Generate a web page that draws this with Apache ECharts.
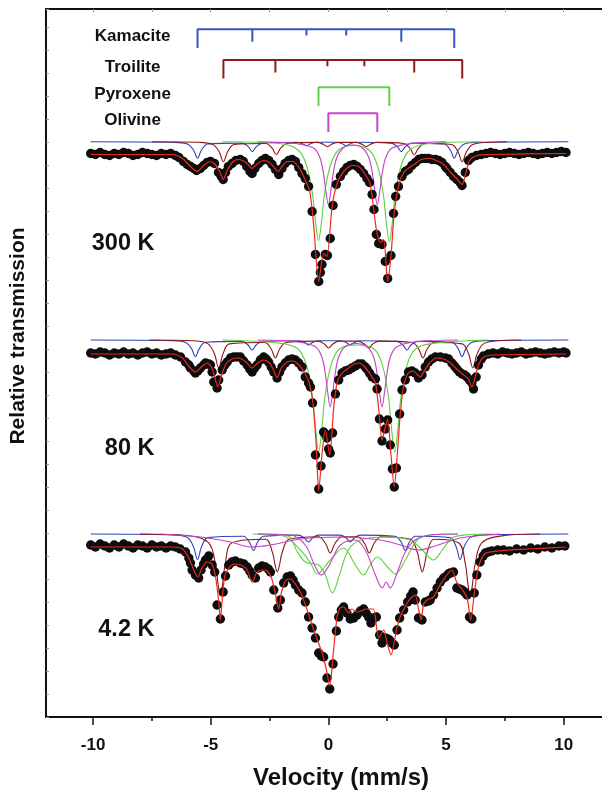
<!DOCTYPE html>
<html><head><meta charset="utf-8">
<script src="https://cdn.jsdelivr.net/npm/echarts@6/dist/echarts.min.js"></script>
<style>html,body{margin:0;padding:0;background:#fff}#c{width:602px;height:796px}</style>
</head><body><div id="c"></div>
<script>
// ---------- DATA ----------
const xTickLabels = [-10, -5, 0, 5, 10];
const xMinorTicks = [-7.5, -2.5, 2.5, 7.5];
const xTopTicks = [-10, -7.5, -5, -2.5, 0, 2.5, 5, 7.5, 10];
const temperatures = ['300 K', '80 K', '4.2 K'];
const phaseNames = ['Kamacite', 'Troilite', 'Pyroxene', 'Olivine'];

// stick diagrams (line positions, mm/s, and relative intensities)
const kamaciteSticks = [-5.56, -3.23, -0.93, 0.76, 3.10, 5.35];
const troiliteSticks = [-4.46, -2.25, -0.04, 1.53, 3.65, 5.69];
const pyroxeneSticks = [-0.42, 2.59];
const olivineSticks = [0.0, 2.08];
const sextetIntensity = [3, 2, 1, 1, 2, 3];
const doubletIntensity = [3, 3];

// vertical offsets of the stacked spectra (arbitrary transmission units)
const dataOffsets = [562.5, 363, 171];
const componentOffsets = [575.3, 377, 183];

// ---- 300 K ----
const dots300 = [[-10.1,1],[-9.9,0],[-9.7,2],[-9.5,0],[-9.3,-1],[-9.1,1],[-8.9,0],[-8.7,2],[-8.5,1],[-8.3,-1],[-8.1,0],[-7.9,2],[-7.7,1],[-7.5,0],[-7.3,-1],[-7.1,1],[-6.9,0],[-6.7,1],[-6.5,-1],[-6.35,-3],
[-6.16,-7],[-6.0,-10],[-5.86,-12],[-5.72,-14],[-5.6,-16],[-5.44,-14],[-5.3,-11],[-5.15,-8],[-5.01,-7],[-4.84,-9],[-4.67,-18],[-4.55,-22],[-4.47,-25],[-4.37,-18],[-4.25,-12],[-4.09,-9],[-3.93,-6],[-3.75,-5],[-3.61,-7],[-3.47,-12],[-3.33,-17],[-3.24,-19],[-3.12,-14],[-2.96,-9],[-2.82,-6],[-2.68,-4],[-2.53,-6],[-2.39,-10],[-2.25,-15],[-2.11,-20],[-1.97,-14],[-1.84,-9],[-1.68,-6],[-1.54,-5],[-1.4,-7],[-1.26,-13],[-1.12,-19],[-0.98,-24],[-0.84,-32],[-0.69,-57],[-0.55,-100],[-0.41,-127],[-0.34,-118],[-0.27,-110],[-0.13,-100],[-0.04,-101],[0.08,-84],[0.2,-51],[0.34,-30],[0.51,-22],[0.65,-17],[0.79,-13],[0.93,-11],[1.08,-10],[1.22,-12],[1.36,-15],[1.5,-19],[1.64,-24],[1.75,-28],[1.86,-40],[1.94,-55],[2.04,-80],[2.14,-89],[2.28,-90],[2.42,-107],[2.52,-124],[2.66,-101],[2.77,-59],[2.86,-42],[2.98,-32],[3.13,-22],[3.27,-17],[3.41,-15],[3.55,-11],[3.7,-8],[3.84,-5],[3.98,-4],[4.12,-4],[4.26,-4],[4.4,-5],[4.55,-5],[4.69,-6],[4.83,-8],[4.97,-12],[5.04,-14],[5.18,-18],[5.32,-22],[5.46,-25],[5.6,-28],[5.68,-31],[5.82,-18],[5.96,-6],[6.1,-3],
[6.3,-1],[6.5,0],[6.7,1],[6.9,2],[7.1,1],[7.3,0],[7.5,1],[7.7,2],[7.9,1],[8.1,0],[8.3,1],[8.5,2],[8.7,1],[8.9,0],[9.1,1],[9.3,2],[9.5,1],[9.7,2],[9.9,3],[10.1,2]];
const fit300 = [[-10.1,0],[-6.6,0],[-6.2,-4],[-5.9,-11],[-5.58,-17],[-5.3,-11],[-5.05,-7],[-4.8,-10],[-4.6,-18],[-4.47,-25],[-4.3,-16],[-4.05,-7],[-3.8,-5],[-3.5,-8],[-3.24,-14],[-3.0,-9],[-2.75,-6],[-2.5,-8],[-2.3,-13],[-2.13,-17],[-1.97,-12],[-1.75,-7],[-1.5,-7],[-1.25,-13],[-1.05,-22],[-0.79,-37],[-0.62,-72],[-0.41,-127],[-0.2,-99],[-0.06,-102],[0.16,-52],[0.37,-29],[0.65,-17],[1.0,-11],[1.29,-12],[1.57,-20],[1.78,-30],[2.04,-75],[2.21,-88],[2.35,-85],[2.52,-127],[2.66,-102],[2.8,-58],[3.0,-30],[3.2,-18],[3.45,-13],[3.7,-9],[3.95,-5],[4.3,-4],[4.6,-6],[4.9,-10],[5.2,-18],[5.45,-24],[5.68,-30],[5.85,-18],[6.0,-6],[6.3,-1],[7,0],[10.1,1]];
const kam300 = [[-10.1,0],[-6.6,-0.6],[-5.99,-2.3],[-5.73,-8.3],[-5.56,-16.5],[-5.39,-8.3],[-5.13,-2.3],[-3.66,-1.4],[-3.40,-5],[-3.23,-10],[-3.06,-5],[-2.80,-1.4],[-1.36,-0.6],[-1.10,-2],[-0.93,-4],[-0.76,-2],[-0.50,-0.6],[0.33,-0.6],[0.59,-2],[0.76,-4],[0.93,-2],[1.19,-0.6],[2.67,-1.4],[2.93,-5],[3.10,-10],[3.27,-5],[3.53,-1.4],[4.92,-2.3],[5.18,-8.3],[5.35,-16.5],[5.52,-8.3],[5.78,-2.3],[6.4,-0.6],[10.2,0]];
const tro300 = [[-7.5,0],[-5.5,-0.6],[-4.91,-2.8],[-4.64,-10],[-4.46,-20],[-4.28,-10],[-4.01,-2.8],[-2.66,-1.8],[-2.39,-6.5],[-2.21,-13],[-2.03,-6.5],[-1.76,-1.8],[-0.49,-0.7],[-0.22,-2.5],[-0.04,-5],[0.14,-2.5],[0.41,-0.7],[1.16,-0.7],[1.43,-2.5],[1.61,-5],[1.79,-2.5],[2.06,-0.7],[3.20,-1.8],[3.47,-6.5],[3.65,-13],[3.83,-6.5],[4.10,-1.8],[5.24,-2.8],[5.51,-10],[5.69,-20],[5.87,-10],[6.14,-2.8],[6.8,-0.6],[7.6,0]];
const pyr300 = [[-4.5,0],[-2.0,-2],[-1.3,-8],[-0.95,-22],[-0.69,-50],[-0.55,-80],[-0.42,-99],[-0.29,-80],[-0.15,-50],[0.11,-22],[0.45,-8],[1.08,-3.5],[1.71,-8],[2.06,-22],[2.32,-50],[2.46,-80],[2.59,-100],[2.72,-80],[2.86,-50],[3.12,-22],[3.47,-8],[4.2,-2],[6.5,0]];
const oli300 = [[-3,0],[-1.5,-1.5],[-0.63,-6.3],[-0.36,-15.8],[-0.21,-31.5],[-0.1,-50.4],[0,-63],[0.1,-50.4],[0.21,-31.5],[0.36,-15.8],[0.63,-6.3],[1.04,-3.3],[1.45,-6.3],[1.72,-15.8],[1.87,-31.5],[1.98,-50.4],[2.08,-63],[2.18,-50.4],[2.29,-31.5],[2.44,-15.8],[2.71,-6.3],[3.6,-1.5],[5,0]];

// ---- 80 K ----
const dots80 = [[-10.1,1],[-9.9,0],[-9.7,2],[-9.5,1],[-9.3,-1],[-9.1,1],[-8.9,0],[-8.7,2],[-8.5,0],[-8.3,1],[-8.1,-1],[-7.9,1],[-7.7,2],[-7.5,0],[-7.3,1],[-7.1,-1],[-6.9,0],[-6.7,1],[-6.5,-1],
[-6.28,-3],[-6.07,-8],[-5.93,-11],[-5.86,-14],[-5.72,-17],[-5.65,-19],[-5.55,-17],[-5.44,-14],[-5.3,-11],[-5.22,-9],[-5.08,-10],[-5.01,-11],[-4.94,-18],[-4.87,-28],[-4.73,-34],[-4.66,-26],[-4.51,-16],[-4.4,-11],[-4.3,-8],[-4.16,-4],[-4.02,-3],[-3.88,-3],[-3.74,-3],[-3.6,-7],[-3.45,-11],[-3.34,-15],[-3.24,-18],[-3.13,-14],[-3.03,-11],[-2.89,-6],[-2.75,-3],[-2.64,-5],[-2.54,-8],[-2.43,-13],[-2.32,-18],[-2.18,-24],[-2.07,-18],[-1.97,-13],[-1.83,-9],[-1.69,-6],[-1.54,-5],[-1.4,-6],[-1.26,-9],[-1.12,-13],[-0.98,-23],[-0.84,-29],[-0.76,-33],[-0.67,-49],[-0.55,-101],[-0.41,-135],[-0.31,-112],[-0.2,-78],[-0.13,-80],[-0.06,-84],[0.01,-95],[0.08,-99],[0.18,-79],[0.3,-40],[0.44,-26],[0.58,-19],[0.72,-17],[0.86,-16],[1.0,-14],[1.15,-12],[1.29,-10],[1.43,-10],[1.57,-13],[1.64,-15],[1.75,-19],[1.86,-23],[2.0,-25],[2.07,-35],[2.17,-65],[2.28,-87],[2.42,-75],[2.52,-66],[2.63,-91],[2.72,-115],[2.8,-133],[2.89,-114],[3.03,-60],[3.13,-36],[3.27,-26],[3.41,-18],[3.55,-17],[3.69,-19],[3.83,-24],[3.98,-21],[4.12,-13],[4.26,-8],[4.4,-5],[4.55,-3],[4.76,-3],[4.97,-4],[5.11,-5],[5.25,-9],[5.36,-12],[5.46,-15],[5.57,-18],[5.68,-20],[5.79,-21],[5.89,-23],[6.0,-26],[6.1,-29],[6.17,-35],[6.28,-23],[6.38,-11],[6.5,-5],[6.59,-2],
[6.8,0],[7.0,1],[7.2,0],[7.4,2],[7.6,1],[7.8,0],[8.0,1],[8.2,2],[8.4,0],[8.6,1],[8.8,2],[9.0,1],[9.2,0],[9.4,1],[9.6,2],[9.8,1],[10.0,2],[10.1,1]];
const fit80 = [[-10.1,0],[-6.6,0],[-6.2,-4],[-5.9,-13],[-5.65,-18],[-5.4,-13],[-5.15,-9],[-4.95,-14],[-4.82,-24],[-4.7,-33],[-4.55,-22],[-4.35,-10],[-4.1,-5],[-3.8,-4],[-3.5,-8],[-3.24,-14],[-3.0,-9],[-2.75,-6],[-2.5,-9],[-2.33,-16],[-2.18,-24],[-2.0,-14],[-1.75,-8],[-1.5,-7],[-1.25,-11],[-1.0,-19],[-0.8,-30],[-0.65,-50],[-0.52,-90],[-0.41,-137],[-0.27,-100],[-0.13,-76],[0.06,-101],[0.23,-53],[0.37,-29],[0.55,-20],[0.8,-15],[1.1,-10],[1.3,-9],[1.55,-13],[1.8,-21],[2.0,-29],[2.14,-55],[2.28,-86],[2.4,-75],[2.52,-65],[2.66,-100],[2.8,-133],[2.93,-100],[3.06,-59],[3.2,-32],[3.4,-19],[3.62,-17],[3.8,-21],[3.91,-23],[4.05,-18],[4.3,-9],[4.6,-4],[4.9,-5],[5.2,-9],[5.45,-15],[5.7,-20],[5.95,-25],[6.1,-33],[6.25,-22],[6.4,-10],[6.6,-3],[7,-1],[10.1,0]];
const kam80 = [[-10.1,0],[-6.6,-0.6],[-6.08,-2.3],[-5.82,-8.4],[-5.65,-16.7],[-5.48,-8.4],[-5.22,-2.3],[-3.67,-1.4],[-3.41,-5],[-3.24,-10],[-3.07,-5],[-2.81,-1.4],[-1.27,-0.7],[-1.01,-2.5],[-0.84,-5],[-0.67,-2.5],[-0.41,-0.7],[0.50,-0.7],[0.76,-2.5],[0.93,-5],[1.10,-2.5],[1.36,-0.7],[2.91,-1.4],[3.17,-5],[3.34,-10],[3.51,-5],[3.77,-1.4],[5.25,-2.3],[5.51,-8.4],[5.68,-16.7],[5.85,-8.4],[6.11,-2.3],[6.7,-0.6],[10.2,0]];
const tro80 = [[-7.6,0],[-5.7,-0.8],[-5.11,-3.9],[-4.84,-14],[-4.66,-28],[-4.48,-14],[-4.21,-3.9],[-2.70,-2.5],[-2.43,-9],[-2.25,-18],[-2.07,-9],[-1.80,-2.5],[-0.44,-1.1],[-0.17,-4],[0.01,-8],[0.19,-4],[0.46,-1.1],[1.26,-1.1],[1.53,-4],[1.71,-8],[1.89,-4],[2.16,-1.1],[3.57,-2.5],[3.84,-9],[4.02,-18],[4.20,-9],[4.47,-2.5],[5.69,-3.9],[5.96,-14],[6.14,-28],[6.32,-14],[6.59,-3.9],[7.2,-0.8],[8.2,0]];
const pyr80 = [[-4.5,0],[-2.01,-3.4],[-1.29,-9],[-0.94,-24.6],[-0.68,-56],[-0.54,-89.6],[-0.41,-112],[-0.28,-89.6],[-0.14,-56],[0.12,-24.6],[0.47,-9],[1.2,-5],[1.94,-9],[2.29,-24.6],[2.55,-56],[2.69,-89.6],[2.82,-112],[2.95,-89.6],[3.09,-56],[3.35,-24.6],[3.70,-9],[4.42,-3.4],[6.8,0]];
const oli80 = [[-3,0],[-1.42,-1.5],[-0.55,-6.7],[-0.28,-16.7],[-0.13,-33.5],[-0.02,-53.6],[0.08,-67],[0.18,-53.6],[0.29,-33.5],[0.44,-16.7],[0.71,-6.7],[1.18,-3.5],[1.65,-6.7],[1.92,-16.7],[2.07,-33.5],[2.18,-53.6],[2.28,-67],[2.38,-53.6],[2.49,-33.5],[2.64,-16.7],[2.91,-6.7],[3.8,-1.5],[5.5,0]];

// ---- 4.2 K ----
const dots4 = [[-10.1,1],[-9.9,-1],[-9.7,2],[-9.5,0],[-9.3,-2],[-9.1,1],[-8.9,-1],[-8.7,2],[-8.5,0],[-8.3,-2],[-8.1,1],[-7.9,0],[-7.7,-2],[-7.5,1],[-7.3,-1],[-7.1,0],[-6.9,-2],[-6.7,0],[-6.5,-1],[-6.3,-3],
[-6.07,-6],[-5.93,-12],[-5.86,-17],[-5.79,-24],[-5.65,-29],[-5.51,-32],[-5.41,-24],[-5.3,-18],[-5.22,-14],[-5.08,-10],[-4.94,-19],[-4.83,-26],[-4.73,-59],[-4.59,-73],[-4.47,-46],[-4.37,-30],[-4.23,-19],[-4.1,-16],[-3.95,-15],[-3.74,-17],[-3.59,-18],[-3.45,-21],[-3.34,-25],[-3.24,-29],[-3.1,-32],[-2.96,-22],[-2.82,-20],[-2.68,-21],[-2.55,-23],[-2.46,-26],[-2.32,-44],[-2.15,-62],[-2.04,-54],[-1.9,-37],[-1.75,-31],[-1.61,-30],[-1.5,-34],[-1.4,-39],[-1.26,-44],[-1.12,-47],[-0.98,-56],[-0.84,-71],[-0.69,-82],[-0.55,-92],[-0.41,-107],[-0.3,-110],[-0.2,-111],[-0.06,-132],[0.06,-143],[0.2,-118],[0.34,-85],[0.44,-71],[0.55,-64],[0.65,-61],[0.79,-67],[0.93,-73],[1.08,-72],[1.22,-69],[1.36,-65],[1.5,-63],[1.6,-67],[1.71,-71],[1.81,-77],[1.92,-72],[2.04,-71],[2.18,-89],[2.28,-97],[2.42,-92],[2.52,-93],[2.6,-94],[2.7,-97],[2.8,-99],[2.92,-84],[3.03,-72],[3.2,-64],[3.37,-56],[3.5,-50],[3.6,-46],[3.69,-54],[3.83,-72],[3.98,-74],[4.12,-56],[4.26,-55],[4.33,-54],[4.47,-49],[4.62,-42],[4.76,-36],[4.9,-32],[4.97,-31],[5.1,-28],[5.18,-27],[5.32,-26],[5.46,-42],[5.57,-43],[5.68,-44],[5.79,-46],[5.89,-49],[6.0,-71],[6.1,-73],[6.2,-47],[6.31,-29],[6.45,-16],[6.58,-10],[6.67,-7],[6.8,-6],[6.95,-5],
[7.2,-4],[7.44,-4],[7.7,-5],[8.0,-3],[8.3,-4],[8.6,-2],[8.9,-3],[9.2,-1],[9.5,-2],[9.8,0],[10.05,0]];
const fit4 = [[-10.1,-1],[-6.6,-1],[-6.2,-3],[-5.93,-12],[-5.72,-24],[-5.55,-31],[-5.35,-21],[-5.15,-16],[-4.95,-18],[-4.8,-30],[-4.66,-55],[-4.59,-74],[-4.5,-50],[-4.4,-30],[-4.2,-21],[-4.0,-18],[-3.7,-19],[-3.45,-24],[-3.24,-36],[-3.05,-27],[-2.85,-24],[-2.6,-25],[-2.4,-33],[-2.25,-48],[-2.11,-63],[-1.98,-45],[-1.8,-34],[-1.6,-33],[-1.4,-38],[-1.15,-48],[-0.9,-64],[-0.68,-80],[-0.45,-95],[-0.25,-108],[-0.1,-122],[0.06,-140],[0.22,-105],[0.37,-71],[0.5,-62],[0.65,-61],[0.86,-67],[1.0,-63],[1.2,-66],[1.4,-65],[1.6,-63],[1.78,-63],[1.92,-63],[2.14,-92],[2.35,-84],[2.5,-97],[2.66,-109],[2.92,-81],[3.1,-68],[3.3,-59],[3.5,-52],[3.69,-49],[3.85,-65],[3.94,-74],[4.05,-58],[4.2,-54],[4.47,-51],[4.72,-40],[5.0,-30],[5.25,-24],[5.45,-36],[5.7,-44],[5.9,-52],[6.05,-74],[6.2,-48],[6.35,-24],[6.5,-13],[6.7,-7],[7.2,-5],[8.5,-3],[10.1,-1]];
const kam4 = [[-10.1,0],[-6.6,-0.9],[-5.99,-3.6],[-5.73,-12.8],[-5.56,-25.5],[-5.39,-12.8],[-5.13,-3.6],[-3.61,-2.3],[-3.35,-8.3],[-3.18,-16.5],[-3.01,-8.3],[-2.75,-2.3],[-1.28,-1.1],[-1.02,-4],[-0.85,-8],[-0.68,-4],[-0.42,-1.1],[0.50,-1.1],[0.76,-4],[0.93,-8],[1.10,-4],[1.36,-1.1],[2.84,-2.3],[3.10,-8.3],[3.27,-16.5],[3.44,-8.3],[3.70,-2.3],[5.17,-3.6],[5.43,-12.8],[5.60,-25.5],[5.77,-12.8],[6.03,-3.6],[6.6,-0.9],[10.2,0]];
const tro4 = [[-8,0],[-6.0,-1.5],[-5.09,-8.7],[-4.79,-31],[-4.69,-49.6],[-4.59,-62],[-4.49,-49.6],[-4.39,-31],[-4.09,-8.7],[-2.67,-5.3],[-2.37,-19],[-2.27,-30.4],[-2.17,-38],[-2.07,-30.4],[-1.97,-19],[-1.67,-5.3],[-0.42,-2.7],[-0.12,-9.5],[0.08,-19],[0.28,-9.5],[0.58,-2.7],[1.24,-2.7],[1.54,-9.5],[1.74,-19],[1.94,-9.5],[2.24,-2.7],[3.49,-5.3],[3.79,-19],[3.89,-30.4],[3.99,-38],[4.09,-30.4],[4.19,-19],[4.49,-5.3],[5.53,-8.7],[5.83,-31],[5.93,-49.6],[6.03,-62],[6.13,-49.6],[6.23,-31],[6.53,-8.7],[7.5,-1.5],[9,0]];
const pyrA4 = [[-3.2,0],[-1.91,-2],[-1.19,-16],[-0.76,-29],[-0.47,-40],[0.08,-26],[0.64,-14],[1.15,-31],[1.49,-41],[1.78,-31],[2.08,-23],[2.55,-34],[2.85,-40],[3.27,-26],[3.78,-6],[4.33,-1],[5.5,0]];
const pyrB4 = [[-3.0,0],[-1.7,-2],[-1.36,-16],[-0.98,-28],[-0.42,-31],[-0.13,-41],[0.17,-59],[0.47,-41],[0.85,-16],[1.36,-6],[2.42,-3],[3.48,-6],[3.99,-16],[4.46,-26],[4.84,-16],[5.27,-4],[5.82,-1],[7,0]];
const oliA4 = [[-3,0],[-1.61,-1],[-0.98,-11],[-0.59,-31],[-0.30,-41],[0.04,-31],[0.51,-11],[1.15,-6],[1.57,-16],[2.00,-41],[2.29,-54],[2.46,-48],[2.63,-54],[2.89,-41],[3.27,-18],[3.69,-6],[4.33,-1],[5.5,0]];
const oliB4 = [[-7.13,0],[-5.44,-3],[-4.16,-8],[-3.31,-13],[-2.46,-11],[-1.19,-5],[0.51,-3],[2.21,-6],[3.06,-11],[3.82,-16],[4.54,-12],[5.61,-4],[7.30,0]];

// ---------- BUILD ----------
const FONT = '"Liberation Sans", Arial, Helvetica, sans-serif';
const INK = '#111111';
const C = {kam:'#2f46b4', tro:'#8e1616', pyr:'#5fcf3f', oli:'#c63fc6', fit:'#ec2a1c', dot:'#0d0d0d'};
const shift = (arr, off) => arr.map(p => [p[0], p[1] + off]);

function comp(data, off, color, z) {
  return {type:'line', data: shift(data, off), smooth: 0.35, symbol:'none', silent:true,
    lineStyle:{color, width:1.1}, z: z||2, animation:false};
}
function dots(data, off) {
  return {type:'scatter', data: shift(data, off), symbolSize: 9.4, silent:true,
    itemStyle:{color:C.dot, opacity:1}, z:3, animation:false};
}
function fit(data, off) {
  return {type:'line', data: shift(data, off), smooth: 0.25, symbol:'none', silent:true,
    lineStyle:{color:C.fit, width:1.2}, z:4, animation:false};
}
function bracket(pos, inten, top, color) {
  const unit = 6.2, path = [];
  pos.forEach((p, i) => { path.push([p, top]); path.push([p, top - inten[i]*unit]); path.push([p, top]); });
  return {type:'line', data: path, symbol:'none', silent:true, lineStyle:{color, width:2}, z:5, animation:false};
}
function textSeries(items, fontSize, pos) {
  return {type:'scatter', symbolSize:0, silent:true, z:6, animation:false,
    itemStyle:{opacity:1},
    data: items.map(it => ({value:[it[1], it[2]], label:{show:true, formatter: it[0], position: pos,
      distance: 0, fontSize, fontWeight:'bold', fontFamily: FONT, color: INK, opacity:1}}))};
}

const series = [
  comp(kam300, componentOffsets[0], C.kam, 2), comp(tro300, componentOffsets[0], C.tro, 2),
  comp(pyr300, componentOffsets[0], C.pyr, 2), comp(oli300, componentOffsets[0], C.oli, 2),
  dots(dots300, dataOffsets[0]), fit(fit300, dataOffsets[0]),
  comp(kam80, componentOffsets[1], C.kam, 2), comp(tro80, componentOffsets[1], C.tro, 2),
  comp(pyr80, componentOffsets[1], C.pyr, 2), comp(oli80, componentOffsets[1], C.oli, 2),
  dots(dots80, dataOffsets[1]), fit(fit80, dataOffsets[1]),
  comp(kam4, componentOffsets[2], C.kam, 2), comp(tro4, componentOffsets[2], C.tro, 2),
  comp(pyrA4, componentOffsets[2], C.pyr, 2), comp(pyrB4, componentOffsets[2], C.pyr, 2),
  comp(oliA4, componentOffsets[2], C.oli, 2), comp(oliB4, componentOffsets[2], C.oli, 2),
  dots(dots4, dataOffsets[2]), fit(fit4, dataOffsets[2]),
  bracket(kamaciteSticks, sextetIntensity, 687.7, '#3553c4'),
  bracket(troiliteSticks, sextetIntensity, 657, '#901a1a'),
  bracket(pyroxeneSticks, doubletIntensity, 629.7, '#62d04a'),
  bracket(olivineSticks, doubletIntensity, 603.7, '#c848c8'),
  textSeries([[phaseNames[0], -8.32, 680.3], [phaseNames[1], -8.32, 649.5], [phaseNames[2], -8.32, 623], [phaseNames[3], -8.32, 597]], 17, 'inside'),
  textSeries([[temperatures[0], -7.39, 473], [temperatures[1], -7.39, 268], [temperatures[2], -7.39, 87.5]], 23.5, 'left')
];

const chart = echarts.init(document.getElementById('c'), null, {renderer:'canvas'});
chart.setOption({
  animation: false,
  backgroundColor: '#fff',
  grid: {left: 46, right: 0, top: 9, bottom: 79, containLabel: false},
  xAxis: [
    {type:'value', min:-12, max:11.63, position:'bottom',
     axisLine:{show:true, onZero:false, lineStyle:{color:INK, width:2}},
     axisTick:{show:true, customValues: xTickLabels, length:8, inside:false, lineStyle:{color:INK, width:1.5}},
     axisLabel:{show:true, customValues: xTickLabels, fontSize:17, fontWeight:'bold', fontFamily:FONT, color:INK, margin:20},
     splitLine:{show:false},
     name:'Velocity (mm/s)', nameLocation:'middle', nameGap:49,
     nameTextStyle:{fontSize:24, fontWeight:'bold', fontFamily:FONT, color:INK, padding:[0,0,0,34]}},
    {type:'value', min:-12, max:11.63, position:'bottom',
     axisLine:{show:false}, axisLabel:{show:false}, splitLine:{show:false},
     axisTick:{show:true, customValues: xMinorTicks, length:4, inside:false, lineStyle:{color:INK, width:1.5}}},
    {type:'value', min:-12, max:11.63, position:'top',
     axisLine:{show:true, onZero:false, lineStyle:{color:INK, width:2}}, axisLabel:{show:false}, splitLine:{show:false},
     axisTick:{show:true, customValues: xTopTicks, length:3, inside:true, lineStyle:{color:'#999', width:1}}}
  ],
  yAxis: {type:'value', min:0, max:708, interval:23, position:'left',
    axisLine:{show:true, onZero:false, lineStyle:{color:INK, width:2}},
    axisTick:{show:true, inside:true, length:3, lineStyle:{color:'#999', width:1}},
    axisLabel:{show:false}, splitLine:{show:false},
    name:'Relative transmission', nameLocation:'middle', nameGap:17, nameRotate:90,
    nameTextStyle:{fontSize:21, fontWeight:'bold', fontFamily:FONT, color:INK, padding:[0,0,0,54]}},
  series: series
});
</script></body></html>
